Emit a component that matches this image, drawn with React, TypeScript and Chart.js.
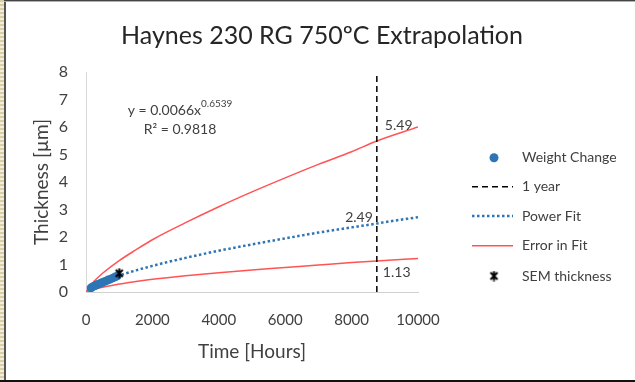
import React, { useEffect, useRef } from "react";
import { Chart, registerables } from "chart.js";
Chart.register(...registerables);

const TITLE = "Haynes 230 RG 750ºC Extrapolation";
const X_TITLE = "Time [Hours]";
const Y_TITLE = "Thickness [µm]";
const X_MIN = 0;
const X_MAX = 10000;
const X_STEP = 2000;
const Y_MIN = 0;
const Y_MAX = 8;
const Y_STEP = 1;

const weightHours = [150, 200, 250, 300, 360, 420, 480, 540, 600, 670, 740, 810, 880, 940];
const weightThickness = [0.15, 0.19, 0.22, 0.25, 0.28, 0.31, 0.34, 0.37, 0.40, 0.44, 0.47, 0.51, 0.55, 0.58];

const fitHours = [100, 250, 500, 1000, 2000, 3000, 4000, 5000, 6000, 7000, 8000, 8760, 9000, 10000];
const fitThickness = [0.13, 0.24, 0.38, 0.60, 0.95, 1.24, 1.50, 1.73, 1.95, 2.16, 2.35, 2.49, 2.54, 2.72];

const errorHours = [0, 250, 500, 1000, 1500, 2000, 3000, 4000, 5000, 6000, 7000, 8000, 8760, 10000];
const errorUpper = [0, 0.4, 0.68, 1.14, 1.53, 1.9, 2.52, 3.1, 3.64, 4.15, 4.64, 5.1, 5.49, 6.0];
const errorLower = [0, 0.1, 0.17, 0.29, 0.38, 0.46, 0.59, 0.7, 0.8, 0.89, 0.98, 1.07, 1.13, 1.22];

const yearHours = [8760, 8760];
const yearThickness = [0, 8];

const semHours = [1000];
const semThickness = [0.68];

const labelHours = [8760, 8760, 8760];
const labelValues = [5.49, 2.49, 1.13];

const legendLabels = ["Weight Change", "1 year", "Power Fit", "Error in Fit", "SEM thickness"];
const equationText = "y = 0.0066x";
const equationExp = "0.6539";
const rSquaredLine = "R² = 0.9818";

const BLUE = "#2e75b6";
const RED = "#ff5454";
const TEXT = "#404040";
const FONT = "Lato, 'Open Sans', sans-serif";

function pts(xs: number[], ys: number[]) {
  return xs.map((x, i) => ({ x, y: ys[i] }));
}

function makeStar(): HTMLCanvasElement {
  const c = document.createElement("canvas");
  c.width = 11;
  c.height = 11;
  const g = c.getContext("2d")!;
  g.strokeStyle = "#000";
  g.lineWidth = 2;
  g.beginPath();
  g.moveTo(2, 2);
  g.lineTo(9, 9);
  g.moveTo(9, 2);
  g.lineTo(2, 9);
  g.moveTo(5.5, 0.5);
  g.lineTo(5.5, 10.5);
  g.stroke();
  return c;
}

export default function App() {
  const ref = useRef<HTMLCanvasElement | null>(null);

  useEffect(() => {
    const canvas = ref.current;
    if (!canvas) return;
    const star = makeStar();

    const overlay = {
      id: "overlay",
      afterDraw(chart: any) {
        const ctx = chart.ctx as CanvasRenderingContext2D;
        const xs = chart.scales.x;
        const ys = chart.scales.y;
        ctx.save();
        // title
        ctx.fillStyle = "#262626";
        ctx.font = `25px ${FONT}`;
        ctx.textAlign = "center";
        ctx.textBaseline = "middle";
        ctx.fillText(TITLE, 322, 36);

        // equation (centred lines)
        ctx.fillStyle = TEXT;
        ctx.textAlign = "left";
        const cx = 180;
        ctx.font = `14px ${FONT}`;
        const w1 = ctx.measureText(equationText).width;
        ctx.font = `10px ${FONT}`;
        const we = ctx.measureText(equationExp).width;
        const left = cx - (w1 + we) / 2;
        ctx.font = `14px ${FONT}`;
        ctx.fillText(equationText, left, 110);
        ctx.font = `10px ${FONT}`;
        ctx.fillText(equationExp, left + w1, 104);
        ctx.font = `14px ${FONT}`;
        ctx.textAlign = "center";
        ctx.fillText(rSquaredLine, cx, 129);

        // value labels at 1 year
        ctx.font = `14px ${FONT}`;
        ctx.fillStyle = TEXT;
        const offs = [
          { dx: 8, dy: -16, align: "left" },
          { dx: -4, dy: -6, align: "right" },
          { dx: 6, dy: 12, align: "left" },
        ];
        labelValues.forEach((v, i) => {
          const px = xs.getPixelForValue(labelHours[i]);
          const py = ys.getPixelForValue(v);
          ctx.textAlign = offs[i].align as CanvasTextAlign;
          ctx.fillText(v.toFixed(2), px + offs[i].dx, py + offs[i].dy);
        });

        // legend
        const lx0 = 472;
        const lx1 = 513;
        const lmx = 494;
        const tx = 522;
        const rows = [157.7, 186.7, 216, 245.7, 276];
        ctx.font = `14px ${FONT}`;
        ctx.textAlign = "left";
        ctx.fillStyle = TEXT;
        legendLabels.forEach((t, i) => ctx.fillText(t, tx, rows[i]));
        ctx.fillStyle = BLUE;
        ctx.beginPath();
        ctx.arc(lmx, rows[0], 4.5, 0, Math.PI * 2);
        ctx.fill();
        ctx.lineCap = "butt";
        ctx.strokeStyle = "#000";
        ctx.lineWidth = 1.5;
        ctx.setLineDash([6, 4]);
        ctx.beginPath();
        ctx.moveTo(lx0, rows[1]);
        ctx.lineTo(lx1, rows[1]);
        ctx.stroke();
        ctx.strokeStyle = BLUE;
        ctx.lineWidth = 2.5;
        ctx.setLineDash([2.5, 2.5]);
        ctx.beginPath();
        ctx.moveTo(lx0, rows[2]);
        ctx.lineTo(lx1, rows[2]);
        ctx.stroke();
        ctx.setLineDash([]);
        ctx.strokeStyle = RED;
        ctx.lineWidth = 1.5;
        ctx.beginPath();
        ctx.moveTo(lx0, rows[3]);
        ctx.lineTo(lx1, rows[3]);
        ctx.stroke();
        ctx.drawImage(star, lmx - 5.5, rows[4] - 5.5);
        ctx.restore();
      },
    };

    const chart = new Chart(canvas, {
      type: "scatter",
      data: {
        datasets: [
          {
            label: legendLabels[4],
            data: pts(semHours, semThickness),
            pointStyle: star as any,
            pointRadius: 5,
            showLine: false,
          },
          {
            label: legendLabels[0],
            data: pts(weightHours, weightThickness),
            backgroundColor: BLUE,
            borderColor: BLUE,
            pointRadius: 4.3,
            pointBorderWidth: 0,
            showLine: false,
          },
          {
            label: legendLabels[2],
            data: pts(fitHours, fitThickness),
            showLine: true,
            borderColor: BLUE,
            borderWidth: 2.5,
            borderDash: [2.5, 2.5],
            pointRadius: 0,
            cubicInterpolationMode: "monotone",
          },
          {
            label: legendLabels[1],
            data: pts(yearHours, yearThickness),
            showLine: true,
            borderColor: "#000",
            borderWidth: 1.5,
            borderDash: [6, 4],
            pointRadius: 0,
          },
          {
            label: legendLabels[3],
            data: pts(errorHours, errorUpper),
            showLine: true,
            borderColor: RED,
            borderWidth: 1.5,
            pointRadius: 0,
            cubicInterpolationMode: "monotone",
          },
          {
            label: legendLabels[3] + " (lower)",
            data: pts(errorHours, errorLower),
            showLine: true,
            borderColor: RED,
            borderWidth: 1.5,
            pointRadius: 0,
            cubicInterpolationMode: "monotone",
          },
        ] as any,
      },
      options: {
        responsive: false,
        animation: false,
        devicePixelRatio: 1,
        layout: { padding: { left: 0, right: 217, top: 72, bottom: 0 } },
        plugins: {
          legend: { display: false },
          title: { display: false },
          tooltip: { enabled: false },
        },
        scales: {
          x: {
            type: "linear",
            min: X_MIN,
            max: X_MAX,
            grid: { display: false, drawTicks: false },
            border: { display: true, color: "#d0d0d0", width: 1 },
            ticks: {
              stepSize: X_STEP,
              padding: 19,
              color: TEXT,
              font: { family: FONT, size: 15 },
              maxRotation: 0,
              callback: (v: any) => String(v),
            },
            title: {
              display: true,
              text: X_TITLE,
              color: TEXT,
              font: { family: FONT, size: 19 },
              padding: { top: 0, bottom: 19 },
            },
            afterFit: (s: any) => {
              s.height = 90;
            },
          },
          y: {
            type: "linear",
            min: Y_MIN,
            max: Y_MAX,
            grid: { display: false, drawTicks: false },
            border: { display: true, color: "#d9d9d9", width: 1 },
            ticks: {
              stepSize: Y_STEP,
              padding: 18,
              color: TEXT,
              font: { family: FONT, size: 16 },
              callback: (v: any) => String(v),
            },
            title: {
              display: true,
              text: Y_TITLE,
              color: TEXT,
              font: { family: FONT, size: 19 },
              padding: { top: 30, bottom: 0 },
            },
            afterFit: (s: any) => {
              s.width = 86;
            },
          },
        },
      },
      plugins: [overlay],
    });
    return () => chart.destroy();
  }, []);

  return (
    <div style={{ position: "fixed", left: 0, top: 0, width: 635, height: 382, background: "#fff", overflow: "hidden" }}>
      <canvas ref={ref} width={635} height={382} style={{ position: "absolute", left: 0, top: 0, width: 635, height: 382 }} />
      <div
        style={{
          position: "absolute",
          left: 0,
          top: 0,
          width: 4,
          height: 382,
          background: "repeating-linear-gradient(to bottom, #d9cfa3 0px, #d9cfa3 2px, #f2eedb 2px, #f2eedb 4px)",
        }}
      />
      <div style={{ position: "absolute", left: 4, top: 0, width: 1.5, height: 382, background: "#555" }} />
      <div style={{ position: "absolute", left: 4, top: 0, width: 631, height: 1, background: "#444" }} />
      <div style={{ position: "absolute", left: 4, top: 1, width: 631, height: 1, background: "#b0b0b0" }} />
      <div style={{ position: "absolute", left: 0, top: 380, width: 635, height: 2, background: "#111" }} />
    </div>
  );
}
